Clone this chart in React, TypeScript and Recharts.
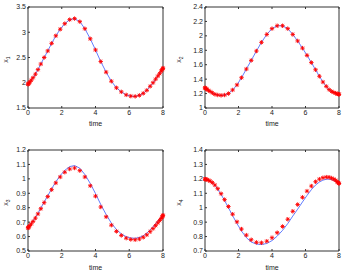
import React from "react";
import { LineChart, Line, XAxis, YAxis } from "recharts";

// sample times (denser near both ends)
const TIME = [
  0, 0.012, 0.049, 0.11, 0.196, 0.3, 0.44, 0.59, 0.76, 0.96, 1.17, 1.4, 1.65, 1.91, 2.18, 2.47, 2.76,
  3.07, 3.37, 3.69, 4.0, 4.31, 4.63, 4.94, 5.24, 5.53, 5.82, 6.09, 6.35, 6.6, 6.83, 7.04, 7.24, 7.41,
  7.56, 7.69, 7.8, 7.89, 7.95, 7.99, 8,
];

const X1 = [
  1.97, 1.975, 1.99, 2.015, 2.05, 2.1, 2.17, 2.26, 2.37, 2.5, 2.63, 2.78, 2.93, 3.06, 3.17, 3.25, 3.27,
  3.21, 3.07, 2.87, 2.65, 2.42, 2.21, 2.03, 1.9, 1.82, 1.76, 1.735, 1.73, 1.75, 1.79, 1.85, 1.93, 2.0,
  2.07, 2.13, 2.18, 2.23, 2.26, 2.28, 2.29,
];

const X2 = [
  1.28, 1.277, 1.27, 1.26, 1.245, 1.23, 1.21, 1.19, 1.18, 1.175, 1.18, 1.2, 1.25, 1.32, 1.42, 1.54, 1.66,
  1.79, 1.91, 2.02, 2.1, 2.14, 2.14, 2.1, 2.02, 1.93, 1.83, 1.73, 1.63, 1.53, 1.44, 1.36, 1.3, 1.255,
  1.23, 1.215, 1.205, 1.197, 1.193, 1.19, 1.19,
];

const X3_LINE = [
  0.666, 0.668, 0.673, 0.681, 0.693, 0.709, 0.732, 0.761, 0.797, 0.84, 0.882, 0.931, 0.98, 1.023, 1.059,
  1.085, 1.092, 1.074, 1.03, 0.968, 0.898, 0.823, 0.753, 0.693, 0.649, 0.619, 0.599, 0.59, 0.588, 0.594,
  0.606, 0.623, 0.647, 0.667, 0.689, 0.707, 0.722, 0.733, 0.741, 0.747, 0.749,
];
const X3_MARK = [
  0.66, 0.662, 0.667, 0.676, 0.688, 0.705, 0.728, 0.757, 0.793, 0.835, 0.877, 0.925, 0.972, 1.013, 1.046,
  1.068, 1.075, 1.057, 1.013, 0.952, 0.88, 0.805, 0.737, 0.679, 0.636, 0.608, 0.589, 0.58, 0.578, 0.583,
  0.595, 0.612, 0.634, 0.655, 0.676, 0.695, 0.711, 0.725, 0.736, 0.744, 0.748,
];

const X4_LINE = [
  1.2, 1.2, 1.199, 1.197, 1.193, 1.186, 1.174, 1.155, 1.128, 1.092, 1.05, 1.0, 0.945, 0.89, 0.838, 0.793,
  0.762, 0.748, 0.745, 0.752, 0.772, 0.803, 0.843, 0.89, 0.942, 0.99, 1.04, 1.085, 1.125, 1.157, 1.178,
  1.191, 1.197, 1.198, 1.194, 1.189, 1.183, 1.177, 1.173, 1.17, 1.169,
];
const X4_MARK = [
  1.198, 1.198, 1.197, 1.195, 1.191, 1.185, 1.174, 1.157, 1.132, 1.097, 1.056, 1.008, 0.955, 0.902, 0.852,
  0.81, 0.778, 0.76, 0.757, 0.768, 0.792, 0.827, 0.87, 0.92, 0.975, 1.022, 1.072, 1.115, 1.15, 1.18, 1.198,
  1.208, 1.212, 1.211, 1.205, 1.198, 1.19, 1.18, 1.174, 1.169, 1.168,
];

const T_TICKS = [0, 2, 4, 6, 8];
const X1_TICKS = [1.5, 2, 2.5, 3, 3.5];
const X2_TICKS = [1, 1.2, 1.4, 1.6, 1.8, 2, 2.2, 2.4];
const X3_TICKS = [0.5, 0.6, 0.7, 0.8, 0.9, 1, 1.1, 1.2];
const X4_TICKS = [0.7, 0.8, 0.9, 1, 1.1, 1.2, 1.3, 1.4];

const AX = "#333333";
const TICK = { fontSize: 7, fill: "#222222" };

const rows = (line: number[], mark: number[]) =>
  TIME.map((t, i) => ({ t, line: line[i], mark: mark[i] }));

const Star = (props: any) => {
  const { cx, cy, index } = props;
  if (cx == null || cy == null) return <g key={`s-${index}`} />;
  const r = 2.2;
  const d = r * 0.72;
  return (
    <g key={`s-${index}`} stroke="#ff0000" strokeWidth={0.9}>
      <line x1={cx - r} y1={cy} x2={cx + r} y2={cy} />
      <line x1={cx} y1={cy - r} x2={cx} y2={cy + r} />
      <line x1={cx - d} y1={cy - d} x2={cx + d} y2={cy + d} />
      <line x1={cx - d} y1={cy + d} x2={cx + d} y2={cy - d} />
    </g>
  );
};

const YLab = (props: any) => {
  const { viewBox, sub } = props;
  const x = 7.5;
  const y = viewBox.y + viewBox.height / 2 + 2;
  return (
    <text x={x} y={y} transform={`rotate(-90, ${x}, ${y})`} textAnchor="middle" fontSize={7} fill="#222222">
      x
      <tspan dy={2} fontSize={5}>
        {sub}
      </tspan>
    </text>
  );
};

type PanelProps = {
  x: number;
  y: number;
  pl: number;
  pt: number;
  pw: number;
  ph: number;
  data: { t: number; line: number; mark: number }[];
  domain: [number, number];
  ticks: number[];
  sub: string;
  labOff: number;
};

const W = 173;
const H = 136;

function Panel({ x, y, pl, pt, pw, ph, data, domain, ticks, sub, labOff }: PanelProps) {
  return (
    <div style={{ position: "absolute", left: x, top: y }}>
      <LineChart
        width={W}
        height={H}
        data={data}
        margin={{ top: pt - 1, right: W - pl - pw - 1, bottom: 0, left: 0 }}
      >
        <XAxis
          dataKey="t"
          type="number"
          domain={[0, 8]}
          ticks={T_TICKS}
          interval={0}
          height={H - pt - ph}
          tickSize={-2}
          tickMargin={4}
          stroke={AX}
          tick={TICK}
          label={{ value: "time", position: "insideBottom", offset: labOff, fontSize: 7, fill: "#222222" }}
        />
        <XAxis
          xAxisId="top"
          orientation="top"
          dataKey="t"
          type="number"
          domain={[0, 8]}
          ticks={T_TICKS}
          interval={0}
          height={1}
          tickSize={-2}
          tickFormatter={() => ""}
          stroke={AX}
        />
        <YAxis
          type="number"
          domain={domain}
          ticks={ticks}
          interval={0}
          width={pl}
          tickSize={-2}
          tickMargin={4}
          stroke={AX}
          tick={TICK}
          label={<YLab sub={sub} />}
        />
        <YAxis
          yAxisId="right"
          orientation="right"
          type="number"
          domain={domain}
          ticks={ticks}
          interval={0}
          width={1}
          tickSize={-2}
          tickFormatter={() => ""}
          stroke={AX}
        />
        <Line dataKey="line" stroke="#3a5cff" strokeWidth={0.8} dot={false} activeDot={false} isAnimationActive={false} />
        <Line dataKey="mark" stroke="none" dot={Star} activeDot={false} isAnimationActive={false} />
      </LineChart>
    </div>
  );
}

export default function App() {
  return (
    <div
      style={{
        position: "absolute",
        left: 0,
        top: 0,
        width: 346,
        height: 272,
        background: "#ffffff",
        fontFamily: "'Liberation Sans', Arial, sans-serif",
      }}
    >
      <Panel x={0} y={0} pl={28} pt={7} pw={135} ph={101} data={rows(X1, X1)} domain={[1.5, 3.5]} ticks={X1_TICKS} sub="1" labOff={10.5} />
      <Panel x={173} y={0} pl={32} pt={7} pw={134} ph={101} data={rows(X2, X2)} domain={[1, 2.4]} ticks={X2_TICKS} sub="2" labOff={10.5} />
      <Panel x={0} y={136} pl={28} pt={14} pw={135} ph={101} data={rows(X3_LINE, X3_MARK)} domain={[0.5, 1.2]} ticks={X3_TICKS} sub="3" labOff={2.5} />
      <Panel x={173} y={136} pl={32} pt={14} pw={134} ph={101} data={rows(X4_LINE, X4_MARK)} domain={[0.7, 1.4]} ticks={X4_TICKS} sub="4" labOff={2.5} />
    </div>
  );
}
